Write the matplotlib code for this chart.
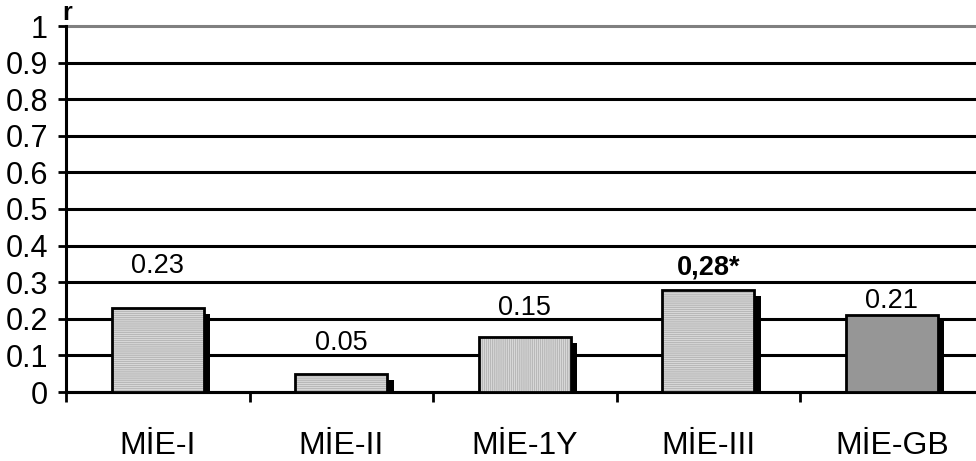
import numpy as np
import matplotlib
matplotlib.use("Agg")
import matplotlib.pyplot as plt

plt.rcParams['font.family'] = ['Liberation Sans', 'DejaVu Sans']
plt.rcParams['hatch.linewidth'] = 1.0

categories = ['MİE-I', 'MİE-II', 'MİE-1Y', 'MİE-III', 'MİE-GB']
values = [0.23, 0.05, 0.15, 0.28, 0.21]
value_labels = ['0.23', '0.05', '0.15', '0,28*', '0.21']
label_bold = [False, False, False, True, False]
yticks = [0, 0.1, 0.2, 0.3, 0.4, 0.5, 0.6, 0.7, 0.8, 0.9, 1]
ytick_labels = ['0', '0.1', '0.2', '0.3', '0.4', '0.5', '0.6', '0.7', '0.8', '0.9', '1']

# styling / layout
label_y = [0.325, 0.115, 0.21, 0.32, 0.23]
face = ['#e6e6e6', '#e6e6e6', '#e6e6e6', '#e6e6e6', '#969696']
hatches = ['--------', '--------', '||||||||', '--------', '']

fig = plt.figure(figsize=(9.76, 4.61), dpi=100)
ax = fig.add_axes([66 / 976, 69 / 461, 917.5 / 976, 366 / 461])

x = np.arange(len(categories))
w = 0.5

# drop shadows
ax.bar(x + 0.036, np.array(values) - 0.017, width=w, color='black', zorder=2)
# hatched fill
for i in range(len(x)):
    ax.bar(x[i], values[i], width=w, color=face[i], edgecolor='#b8b8b8',
           hatch=hatches[i], linewidth=0, zorder=3)
# outline
ax.bar(x, values, width=w, fill=False, edgecolor='black', linewidth=2, zorder=4)

for i in range(len(x)):
    ax.text(x[i], label_y[i], value_labels[i], ha='center', va='baseline',
            fontsize=19.5, fontweight='bold' if label_bold[i] else 'normal', zorder=5)

ax.set_xlim(-0.5, len(categories) - 0.5)
ax.set_ylim(0, 1)
ax.set_yticks(yticks)
ax.set_yticklabels(ytick_labels)
ax.set_xticks(x)
ax.set_xticklabels(categories)
ax.set_xticks(np.arange(len(categories)) - 0.5, minor=True)

ax.tick_params(axis='y', direction='out', length=6, width=2, labelsize=22, pad=7)
ax.tick_params(axis='x', which='major', length=0, labelsize=23, pad=28)
ax.tick_params(axis='x', which='minor', direction='out', length=7.5, width=2)

ax.set_axisbelow(True)
ax.yaxis.grid(True, color='black', linewidth=2.2)
ax.xaxis.grid(False)
glines = ax.get_ygridlines()
for g in glines:
    g.set_clip_on(False)
glines[-1].set_color('#808080')

for s in ['top', 'right']:
    ax.spines[s].set_visible(False)
ax.spines['left'].set_linewidth(2.2)
ax.spines['bottom'].set_linewidth(2.2)

fig.text(62 / 976, (461 - 20) / 461, 'r', fontsize=18, fontweight='bold', va='baseline')

fig.savefig('out.png', dpi=100)
